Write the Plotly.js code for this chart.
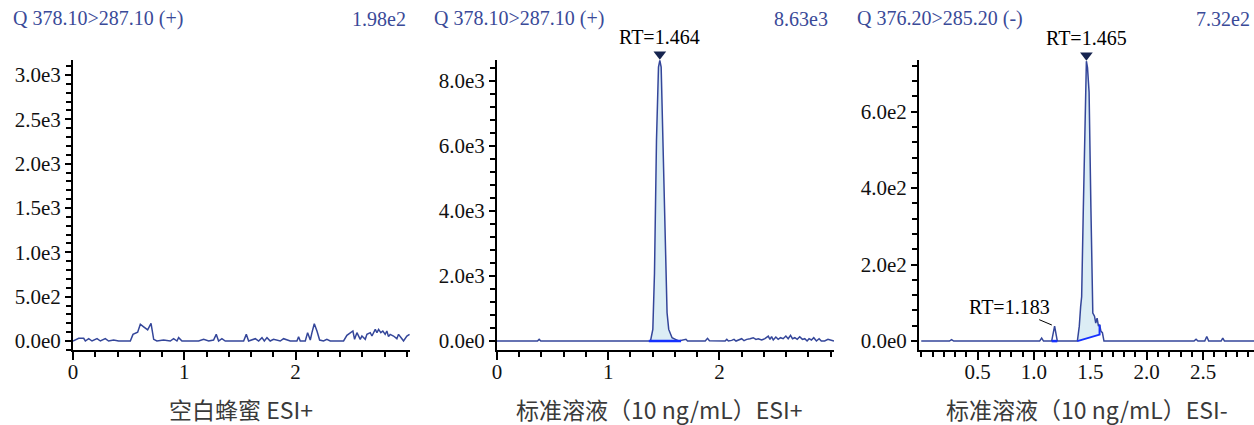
<!DOCTYPE html>
<html>
<head>
<meta charset="utf-8">
<script src="https://cdn.plot.ly/plotly-3.0.1.min.js"></script>
<style>
  html, body { margin: 0; padding: 0; background: #ffffff; }
  #chart { width: 1254px; height: 425px; }
</style>
</head>
<body>
<div id="chart"></div>
<script>
// ---------------- data ----------------
// Panel 1: blank honey, ESI+
const p1Header = 'Q 378.10>287.10 (+)';
const p1MaxLabel = '1.98e2';
const p1Title = '空白蜂蜜 ESI+';
const p1Time = [0.000,0.051,0.096,0.111,0.141,0.171,0.216,0.246,0.290,0.320,0.365,0.410,0.515,0.539,0.581,0.605,0.635,0.671,0.701,0.725,0.754,0.814,0.874,0.904,0.934,0.949,0.979,1.129,1.174,1.219,1.263,1.287,1.308,1.338,1.368,1.533,1.557,1.578,1.638,1.668,1.698,1.719,1.743,1.772,1.802,1.862,1.892,1.952,2.012,2.027,2.042,2.087,2.108,2.132,2.147,2.168,2.192,2.216,2.251,2.281,2.311,2.431,2.461,2.491,2.515,2.530,2.551,2.581,2.596,2.626,2.641,2.671,2.686,2.716,2.731,2.746,2.766,2.784,2.805,2.820,2.835,2.850,2.880,2.910,2.925,2.955,2.970,3.000,3.024];
const p1Int  = [0,30,30,0,26,0,26,0,26,0,11,0,0,75,100,190,160,125,198,19,0,11,0,26,0,38,0,0,19,0,11,75,0,26,0,0,75,0,26,0,38,0,38,0,19,0,26,0,0,49,0,0,94,11,94,195,113,11,0,19,0,0,64,94,113,19,94,19,56,19,75,94,56,131,94,131,94,113,75,113,49,75,56,26,75,26,0,56,75];
const p1YTickVals = [0,500,1000,1500,2000,2500,3000];
const p1YTickText = ['0.0e0','5.0e2','1.0e3','1.5e3','2.0e3','2.5e3','3.0e3'];
const p1XTickVals = [0,1,2];
const p1XTickText = ['0','1','2'];

// Panel 2: standard solution 10 ng/mL, ESI+
const p2Header = 'Q 378.10>287.10 (+)';
const p2MaxLabel = '8.63e3';
const p2Title = '标准溶液（10 ng/mL）ESI+';
const p2Time = [0.000,0.364,0.379,0.394,1.380,1.401,1.416,1.434,1.452,1.464,1.476,1.493,1.514,1.529,1.544,1.559,1.574,1.604,1.634,1.699,1.713,1.872,1.893,1.910,2.051,2.066,2.081,2.110,2.131,2.149,2.179,2.200,2.221,2.245,2.275,2.304,2.328,2.349,2.379,2.409,2.439,2.454,2.469,2.484,2.507,2.528,2.549,2.573,2.597,2.618,2.639,2.657,2.678,2.699,2.722,2.746,2.767,2.788,2.806,2.827,2.848,2.872,2.896,2.916,2.946,2.976,2.997,3.030];
const p2Int  = [0,0,51,0,0,357,2093,6177,8423,8630,8423,6177,2604,868,357,204,102,51,0,51,0,0,82,10,0,51,0,20,51,0,31,71,10,51,71,102,51,71,31,71,153,51,133,31,122,51,102,71,153,71,173,71,102,51,133,51,71,0,71,31,102,0,71,0,0,51,31,0];
const p2RT = 1.464;
const p2IntegStart = 1.365, p2IntegEnd = 1.655;
const p2YTickVals = [0,2000,4000,6000,8000];
const p2YTickText = ['0.0e0','2.0e3','4.0e3','6.0e3','8.0e3'];
const p2XTickVals = [0,1,2];
const p2XTickText = ['0','1','2'];

// Panel 3: standard solution 10 ng/mL, ESI-
const p3Header = 'Q 376.20>285.20 (-)';
const p3MaxLabel = '7.32e2';
const p3Title = '标准溶液（10 ng/mL）ESI-';
const p3Time = [0.000,0.250,0.269,0.288,1.050,1.068,1.085,1.157,1.183,1.207,1.385,1.402,1.414,1.423,1.438,1.453,1.461,1.465,1.475,1.489,1.505,1.522,1.537,1.548,1.560,1.572,1.582,1.594,1.607,1.621,2.420,2.438,2.455,2.515,2.533,2.550,2.660,2.675,2.690,2.960];
const p3Int  = [0,0,4,0,0,8,0,0,39,0,0,39,90,116,349,608,711,732,715,651,349,73,65,47,60,39,43,26,22,0,0,5,0,0,12,0,0,8,0,0];
const p3RT = 1.465;
const p3SmallRT = 1.183;
const p3IntegStart = 1.385, p3IntegEnd = 1.582, p3IntegEndBase = 17;
const p3SmallStart = 1.157, p3SmallEnd = 1.207;
const p3YTickVals = [0,200,400,600];
const p3YTickText = ['0.0e0','2.0e2','4.0e2','6.0e2'];
const p3XTickVals = [0.5,1.0,1.5,2.0,2.5];
const p3XTickText = ['0.5','1.0','1.5','2.0','2.5'];

// ---------------- helpers ----------------
const LINE = '#34469a';
const FILL = '#dcedf5';
const INTEG = '#1530ff';
const MARK = '#16244f';
const SERIF = "'Liberation Serif', 'Times New Roman', serif";
const CJK = "'Noto Sans CJK SC', 'Noto Sans', sans-serif";

function valueAt(t, y, x) {
  for (let i = 1; i < t.length; i++) {
    if (x <= t[i]) {
      const f = (x - t[i-1]) / (t[i] - t[i-1]);
      return y[i-1] + f * (y[i] - y[i-1]);
    }
  }
  return y[y.length-1];
}
function peakPolygon(t, y, start, end, baseStart, baseEnd) {
  const xs = [start], ys = [baseStart];
  xs.push(start); ys.push(valueAt(t, y, start));
  for (let i = 0; i < t.length; i++) {
    if (t[i] > start && t[i] < end) { xs.push(t[i]); ys.push(y[i]); }
  }
  xs.push(end); ys.push(valueAt(t, y, end));
  xs.push(end); ys.push(baseEnd);
  xs.push(start); ys.push(baseStart);
  return {x: xs, y: ys};
}
const maxOf = a => Math.max.apply(null, a);

const W = 1254, H = 425;
const PLOT_TOP = 60, PLOT_BOTTOM = 350, MARK_TOP = 36;
const plotH = PLOT_BOTTOM - PLOT_TOP;
const yDom = [(H - PLOT_BOTTOM) / H, (H - PLOT_TOP) / H];
const markDom = [(H - PLOT_BOTTOM) / H, (H - MARK_TOP) / H];

const x1Range = [0, 3.028], x2Range = [0, 3.03], x3Range = [-0.02, 2.952];
const x1Dom = [73 / W, 410 / W], x2Dom = [497 / W, 834 / W], x3Dom = [919 / W, 1];
const y1Range = [-101.5, 3169];
const y2Range = [-276, 8640];
const y3Range = [-23.3, 735];

const p2Max = maxOf(p2Int), p3Max = maxOf(p3Int);
// hidden overlay axes (same scale, taller domain) that carry the apex markers
const perPx = r => (r[1] - r[0]) / plotH;
const extRange = r => [r[0], r[0] + perPx(r) * (PLOT_BOTTOM - MARK_TOP)];

const poly2 = peakPolygon(p2Time, p2Int, p2IntegStart, p2IntegEnd, 0, 0);
const poly3 = peakPolygon(p3Time, p3Int, p3IntegStart, p3IntegEnd, 0, p3IntegEndBase);

const traces = [
  // panel 1
  {x: p1Time, y: p1Int, xaxis: 'x', yaxis: 'y', type: 'scatter', mode: 'lines',
   line: {color: LINE, width: 1.5}, hoverinfo: 'skip'},
  // panel 2
  {x: poly2.x, y: poly2.y, xaxis: 'x2', yaxis: 'y2', type: 'scatter', mode: 'lines',
   fill: 'toself', fillcolor: FILL, line: {width: 0}, hoverinfo: 'skip'},
  {x: p2Time, y: p2Int, xaxis: 'x2', yaxis: 'y2', type: 'scatter', mode: 'lines',
   line: {color: LINE, width: 1.5}, hoverinfo: 'skip'},
  {x: [p2IntegStart, p2IntegEnd], y: [0, 0], xaxis: 'x2', yaxis: 'y2', type: 'scatter', mode: 'lines',
   line: {color: INTEG, width: 2.5}, hoverinfo: 'skip'},
  {x: [p2RT], y: [p2Max + perPx(y2Range) * 6], xaxis: 'x4', yaxis: 'y4', type: 'scatter', mode: 'markers',
   marker: {symbol: 'triangle-down', size: 11, color: MARK, line: {width: 0}}, hoverinfo: 'skip'},
  // panel 3
  {x: poly3.x, y: poly3.y, xaxis: 'x3', yaxis: 'y3', type: 'scatter', mode: 'lines',
   fill: 'toself', fillcolor: FILL, line: {width: 0}, hoverinfo: 'skip'},
  {x: p3Time, y: p3Int, xaxis: 'x3', yaxis: 'y3', type: 'scatter', mode: 'lines',
   line: {color: LINE, width: 1.5}, hoverinfo: 'skip'},
  {x: [p3IntegStart, p3IntegEnd, p3IntegEnd], y: [0, p3IntegEndBase, valueAt(p3Time, p3Int, p3IntegEnd)],
   xaxis: 'x3', yaxis: 'y3', type: 'scatter', mode: 'lines',
   line: {color: INTEG, width: 2}, hoverinfo: 'skip'},
  {x: [p3SmallStart, p3SmallEnd], y: [0, 0], xaxis: 'x3', yaxis: 'y3', type: 'scatter', mode: 'lines',
   line: {color: INTEG, width: 2.5}, hoverinfo: 'skip'},
  {x: [p3RT], y: [p3Max + perPx(y3Range) * 6], xaxis: 'x5', yaxis: 'y5', type: 'scatter', mode: 'markers',
   marker: {symbol: 'triangle-down', size: 11, color: MARK, line: {width: 0}}, hoverinfo: 'skip'}
];

function xAxis(domain, range, vals, text, minorDtick, anchor) {
  return {
    domain: domain, range: range, tickvals: vals, ticktext: text, anchor: anchor,
    showline: true, linecolor: '#000', linewidth: 2, mirror: false,
    ticks: 'outside', ticklen: 8, tickwidth: 2, tickcolor: '#000',
    minor: {dtick: minorDtick, tick0: 0, ticks: 'outside', ticklen: 5, tickwidth: 2, tickcolor: '#000', showgrid: false},
    ticklabelstandoff: -6,
    showgrid: false, zeroline: false, fixedrange: true,
    tickfont: {family: SERIF, size: 21, color: '#111'}
  };
}
function yAxis(range, vals, text, minorDtick, anchor) {
  return {
    domain: yDom, range: range, tickvals: vals, ticktext: text, anchor: anchor,
    showline: true, linecolor: '#000', linewidth: 2,
    ticks: 'outside', ticklen: 6, tickwidth: 2, tickcolor: '#000',
    minor: {dtick: minorDtick, tick0: 0, ticks: 'outside', ticklen: 5, tickwidth: 2, tickcolor: '#000', showgrid: false},
    showgrid: false, zeroline: false, fixedrange: true,
    tickfont: {family: SERIF, size: 21, color: '#111'}
  };
}
function hiddenAxis(domain, range, anchor) {
  return {domain: domain, range: range, anchor: anchor, visible: false, fixedrange: true,
          showgrid: false, zeroline: false};
}

const headerFont = {family: SERIF, size: 20, color: '#3a4a98'};
const titleFont = {family: CJK, size: 23, color: '#3a3a3a'};
const yHead = (H - 19) / H;
const yTitle = (H - 409) / H;

const annotations = [
  {xref: 'paper', yref: 'paper', x: 11 / W, y: yHead, xanchor: 'left', yanchor: 'middle', text: p1Header, showarrow: false, font: headerFont},
  {xref: 'paper', yref: 'paper', x: 408 / W, y: yHead, xanchor: 'right', yanchor: 'middle', text: p1MaxLabel, showarrow: false, font: headerFont},
  {xref: 'paper', yref: 'paper', x: 432 / W, y: yHead, xanchor: 'left', yanchor: 'middle', text: p2Header, showarrow: false, font: headerFont},
  {xref: 'paper', yref: 'paper', x: 830 / W, y: yHead, xanchor: 'right', yanchor: 'middle', text: p2MaxLabel, showarrow: false, font: headerFont},
  {xref: 'paper', yref: 'paper', x: 855 / W, y: yHead, xanchor: 'left', yanchor: 'middle', text: p3Header, showarrow: false, font: headerFont},
  {xref: 'paper', yref: 'paper', x: 1252 / W, y: yHead, xanchor: 'right', yanchor: 'middle', text: p3MaxLabel, showarrow: false, font: headerFont},
  // RT labels
  {xref: 'x2', yref: 'y2', x: p2RT, y: p2Max, xanchor: 'center', yanchor: 'bottom', yshift: 10, text: 'RT=' + p2RT.toFixed(3), showarrow: false,
   font: {family: SERIF, size: 20, color: '#000'}},
  {xref: 'x3', yref: 'y3', x: p3RT, y: p3Max, xanchor: 'center', yanchor: 'bottom', yshift: 10, text: 'RT=' + p3RT.toFixed(3), showarrow: false,
   font: {family: SERIF, size: 20, color: '#000'}},
  {xref: 'x3', yref: 'y3', x: p3SmallRT, y: valueAt(p3Time, p3Int, p3SmallRT), text: 'RT=' + p3SmallRT.toFixed(3),
   showarrow: true, arrowhead: 0, arrowwidth: 1, arrowcolor: '#000', ax: -45, ay: -19, standoff: 3,
   font: {family: SERIF, size: 20, color: '#000'}},
  // bottom titles
  {xref: 'paper', yref: 'paper', x: 241 / W, y: yTitle, xanchor: 'center', yanchor: 'middle', text: p1Title, showarrow: false, font: titleFont},
  {xref: 'paper', yref: 'paper', x: 659 / W, y: yTitle, xanchor: 'center', yanchor: 'middle', text: p2Title, showarrow: false, font: titleFont},
  {xref: 'paper', yref: 'paper', x: 1087 / W, y: yTitle, xanchor: 'center', yanchor: 'middle', text: p3Title, showarrow: false, font: titleFont}
];

const layout = {
  width: W, height: H,
  margin: {l: 0, r: 0, t: 0, b: 0},
  paper_bgcolor: '#fff', plot_bgcolor: 'rgba(0,0,0,0)',
  showlegend: false,
  xaxis: xAxis(x1Dom, x1Range, p1XTickVals, p1XTickText, 0.2, 'y'),
  yaxis: yAxis(y1Range, p1YTickVals, p1YTickText, 100, 'x'),
  xaxis2: xAxis(x2Dom, x2Range, p2XTickVals, p2XTickText, 0.2, 'y2'),
  yaxis2: yAxis(y2Range, p2YTickVals, p2YTickText, 400, 'x2'),
  xaxis3: xAxis(x3Dom, x3Range, p3XTickVals, p3XTickText, 0.1, 'y3'),
  yaxis3: yAxis(y3Range, p3YTickVals, p3YTickText, 40, 'x3'),
  xaxis4: hiddenAxis(x2Dom, x2Range, 'y4'),
  yaxis4: hiddenAxis(markDom, extRange(y2Range), 'x4'),
  xaxis5: hiddenAxis(x3Dom, x3Range, 'y5'),
  yaxis5: hiddenAxis(markDom, extRange(y3Range), 'x5'),
  annotations: annotations
};

Plotly.newPlot('chart', traces, layout, {displayModeBar: false, staticPlot: true});
</script>
</body>
</html>
